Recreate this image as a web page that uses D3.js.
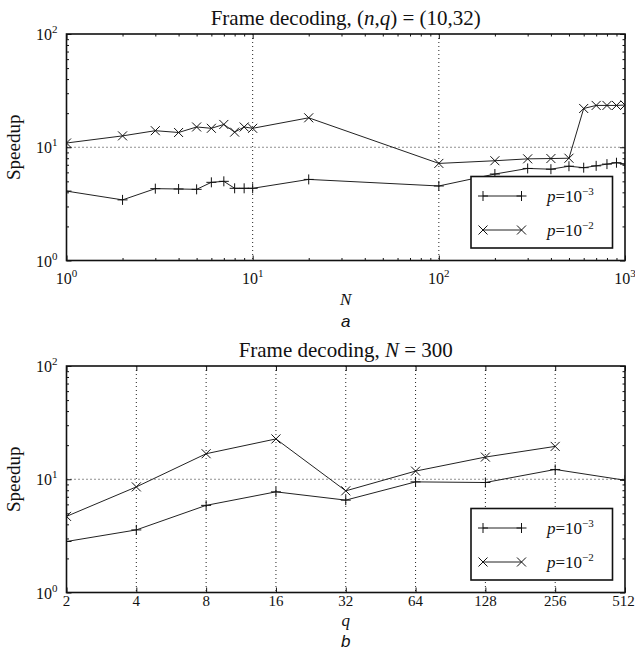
<!DOCTYPE html>
<html>
<head>
<meta charset="utf-8">
<script src="https://cdn.jsdelivr.net/npm/d3@7"></script>
<style>
  body { margin: 0; background: #fff; }
  text { font-family: "Liberation Serif", "DejaVu Serif", serif; fill: #111; }
</style>
</head>
<body>
<svg id="fig" width="635" height="653"></svg>
<script>
// panel a : speedup vs N, (n,q) = (10,32)
var nValues   = [1, 2, 3, 4, 5, 6, 7, 8, 9, 10, 20, 100, 200, 300, 400, 500, 600, 700, 800, 900, 1000];
var speedupA3 = [4.1, 3.43, 4.31, 4.28, 4.25, 4.9, 5.0, 4.34, 4.34, 4.34, 5.2, 4.55, 5.8, 6.5, 6.4, 6.8, 6.6, 6.85, 7.1, 7.3, 7.1];
var speedupA2 = [10.9, 12.6, 14.0, 13.5, 15.1, 14.7, 15.9, 13.6, 15.1, 14.7, 18.2, 7.2, 7.6, 7.9, 7.95, 8.0, 22.0, 23.4, 23.4, 23.4, 23.6];

// panel b : speedup vs q, N = 300
var qValues   = [2, 4, 8, 16, 32, 64, 128, 256, 512];
var speedupB3 = [2.82, 3.57, 5.88, 7.74, 6.54, 9.48, 9.36, 12.2, 9.8];
var speedupB2 = [4.7, 8.56, 16.8, 22.7, 7.9, 11.8, 15.7, 19.5];

var yTicks = [1, 10, 100];
var nTicks = [1, 10, 100, 1000];
var legendExp = [-3, -2];   // p = 10^-3, p = 10^-2

var svg = d3.select('#fig');
var left = 66.5, right = 625, plotW = right - left, plotH = 226.5;

var markers = {
  plus: 'M-5,0H5M0,-5V5',
  cross: 'M-4.5,-4.5L4.5,4.5M-4.5,4.5L4.5,-4.5'
};

/**
 * Write "10^k" as text with a superscript.
 */
var powerLabel = function(sel, k) {
  sel.append('tspan').text('10');
  sel.append('tspan').attr('dy', -7).style('font-size', '11px').text(k);
};

/**
 * Build one panel.
 */
var drawPanel = function(cfg) {
  var g = svg.append('g').attr('transform', 'translate(' + left + ',' + cfg.top + ')');
  var x = cfg.x, y = d3.scaleLog().domain([1, 100]).range([plotH, 0]);

  var clipId = 'clip' + cfg.id;
  g.append('clipPath').attr('id', clipId).append('rect')
      .attr('width', plotW).attr('height', plotH);

  // dotted grid at major ticks
  g.selectAll('.gx').data(cfg.gridX).enter().append('line')
      .attr('x1', function(d) { return x(d); }).attr('x2', function(d) { return x(d); })
      .attr('y1', 0).attr('y2', plotH)
      .attr('stroke', '#222').attr('stroke-width', 1).attr('stroke-dasharray', '1,3');
  g.append('line').attr('x1', 0).attr('x2', plotW)
      .attr('y1', y(10)).attr('y2', y(10))
      .attr('stroke', '#222').attr('stroke-width', 1).attr('stroke-dasharray', '1,3');

  // ticks, pointing inward on all four sides
  var yMinor = y.ticks().filter(function(d) { return yTicks.indexOf(d) < 0; });
  var tickAxis = function(axis, tr) {
    var a = g.append('g').attr('transform', tr).call(axis);
    a.select('.domain').remove();
    a.selectAll('line').attr('stroke', '#111').attr('stroke-width', 1);
  };
  tickAxis(d3.axisLeft(y).tickValues(yTicks).tickSize(-5).tickFormat(''), '');
  tickAxis(d3.axisLeft(y).tickValues(yMinor).tickSize(-2.5).tickFormat(''), '');
  tickAxis(d3.axisRight(y).tickValues(yTicks).tickSize(-5).tickFormat(''), 'translate(' + plotW + ',0)');
  tickAxis(d3.axisRight(y).tickValues(yMinor).tickSize(-2.5).tickFormat(''), 'translate(' + plotW + ',0)');
  tickAxis(d3.axisBottom(x).tickValues(cfg.xMajor).tickSize(-5).tickFormat(''), 'translate(0,' + plotH + ')');
  tickAxis(d3.axisTop(x).tickValues(cfg.xMajor).tickSize(-5).tickFormat(''), '');
  if (cfg.xMinor.length) {
    tickAxis(d3.axisBottom(x).tickValues(cfg.xMinor).tickSize(-2.5).tickFormat(''), 'translate(0,' + plotH + ')');
    tickAxis(d3.axisTop(x).tickValues(cfg.xMinor).tickSize(-2.5).tickFormat(''), '');
  }

  // series
  var line = d3.line().x(function(d) { return x(d[0]); }).y(function(d) { return y(d[1]); });
  var plot = g.append('g').attr('clip-path', 'url(#' + clipId + ')');
  cfg.series.forEach(function(s) {
    var pts = s.values.map(function(v, i) { return [s.xs[i], v]; });
    plot.append('path').datum(pts).attr('d', line)
        .attr('fill', 'none').attr('stroke', '#222').attr('stroke-width', 1);
    plot.selectAll(null).data(pts).enter().append('path')
        .attr('transform', function(d) { return 'translate(' + x(d[0]) + ',' + y(d[1]) + ')'; })
        .attr('d', markers[s.marker])
        .attr('fill', 'none').attr('stroke', '#111').attr('stroke-width', 1);
  });

  // frame
  g.append('rect').attr('width', plotW).attr('height', plotH)
      .attr('fill', 'none').attr('stroke', '#111').attr('stroke-width', 1.6);

  // y tick labels
  yTicks.forEach(function(t, i) {
    var tx = g.append('text').attr('x', -9).attr('y', y(t) + 6)
        .attr('text-anchor', 'end').style('font-size', '16px');
    powerLabel(tx, i);
  });
  // x tick labels
  cfg.xMajor.forEach(function(t, i) {
    var last = i === cfg.xMajor.length - 1;
    var tx = g.append('text').attr('x', x(t) - (last && !cfg.powerLabels ? 1.5 : 0))
        .attr('y', plotH + cfg.tickDy)
        .attr('text-anchor', 'middle').style('font-size', cfg.powerLabels ? '16px' : '15px');
    if (cfg.powerLabels) powerLabel(tx, i); else tx.text(t);
  });

  // titles and labels
  var title = g.append('text').attr('x', plotW / 2).attr('y', -9)
      .attr('text-anchor', 'middle').style('font-size', '21px');
  cfg.title.forEach(function(p) {
    title.append('tspan').style('font-style', p[1] ? 'italic' : 'normal').text(p[0]);
  });
  g.append('text').attr('transform', 'translate(-47,' + (plotH / 2) + ') rotate(-90)')
      .attr('text-anchor', 'middle').style('font-size', '19px').text('Speedup');
  g.append('text').attr('x', plotW / 2).attr('y', plotH + cfg.xLabelDy)
      .attr('text-anchor', 'middle').style('font-size', '17px').style('font-style', 'italic')
      .text(cfg.xLabel);
  g.append('text').attr('x', plotW / 2).attr('y', plotH + cfg.tagDy)
      .attr('text-anchor', 'middle')
      .style('font-family', '"Liberation Sans", Arial, sans-serif')
      .style('font-size', '17px').style('font-style', 'italic').text(cfg.tag);

  // legend
  var lg = g.append('g').attr('transform', 'translate(' + (plotW - 154) + ',' + (plotH - 84) + ')');
  lg.append('rect').attr('width', 141.5).attr('height', 71.5)
      .attr('fill', '#fff').attr('stroke', '#111').attr('stroke-width', 1.6);
  cfg.series.forEach(function(s, i) {
    var ly = 19.5 + i * 34;
    lg.append('line').attr('x1', 12).attr('x2', 50.5).attr('y1', ly).attr('y2', ly)
        .attr('stroke', '#222').attr('stroke-width', 1);
    [12, 50.5].forEach(function(mx) {
      lg.append('path').attr('transform', 'translate(' + mx + ',' + ly + ')')
          .attr('d', markers[s.marker]).attr('fill', 'none').attr('stroke', '#111');
    });
    var t = lg.append('text').attr('x', 76).attr('y', ly + 6).style('font-size', '17px');
    t.append('tspan').style('font-style', 'italic').text('p');
    t.append('tspan').text('=10');
    t.append('tspan').attr('dy', -7).style('font-size', '11px').text('\u2212' + (-legendExp[i]));
  });
};

var xA = d3.scaleLog().domain([1, 1000]).range([0, plotW]);
var xB = d3.scaleLog().base(2).domain([2, 512]).range([0, plotW]);

drawPanel({
  id: 'a', top: 34, x: xA,
  xMajor: nTicks,
  xMinor: xA.ticks().filter(function(d) { return nTicks.indexOf(d) < 0; }),
  gridX: [10, 100],
  powerLabels: true, tickDy: 23,
  title: [['Frame decoding, ', 0], ['(', 0], ['n', 1], [',', 0], ['q', 1], [') = (10,32)', 0]],
  xLabel: 'N', xLabelDy: 44, tagDy: 66, tag: 'a',
  series: [
    { xs: nValues, values: speedupA3, marker: 'plus' },
    { xs: nValues, values: speedupA2, marker: 'cross' }
  ]
});

drawPanel({
  id: 'b', top: 366, x: xB,
  xMajor: qValues,
  xMinor: [],
  gridX: qValues.slice(1, -1),
  powerLabels: false, tickDy: 13,
  title: [['Frame decoding, ', 0], ['N', 1], [' = 300', 0]],
  xLabel: 'q', xLabelDy: 33, tagDy: 54, tag: 'b',
  series: [
    { xs: qValues, values: speedupB3, marker: 'plus' },
    { xs: qValues.slice(0, speedupB2.length), values: speedupB2, marker: 'cross' }
  ]
});
</script>
</body>
</html>
